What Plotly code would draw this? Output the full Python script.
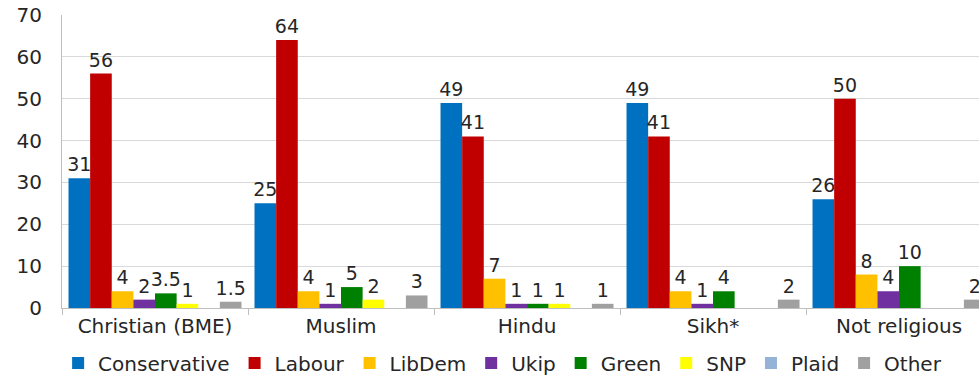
import plotly.graph_objects as go

categories = ["Christian (BME)", "Muslim", "Hindu", "Sikh*", "Not religious"]
parties = ["Conservative", "Labour", "LibDem", "Ukip", "Green", "SNP", "Plaid", "Other"]
conservative = [31, 25, 49, 49, 26]
labour = [56, 64, 41, 41, 50]
libdem = [4, 4, 7, 4, 8]
ukip = [2, 1, 1, 1, 4]
green = [3.5, 5, 1, 4, 10]
snp = [1, 2, 1, None, None]
plaid = [None, None, None, None, None]
other = [1.5, 3, 1, 2, 2]

series = [conservative, labour, libdem, ukip, green, snp, plaid, other]
colors = ["#0070C0", "#C00000", "#FFC000", "#7030A0", "#008000", "#FFFF00", "#95B3D7", "#A0A0A0"]

FONT = "DejaVu Sans"

fig = go.Figure()
for name, vals, col in zip(parties, series, colors):
    fig.add_trace(go.Bar(
        name=name, x=categories, y=vals, marker_color=col, marker_line_width=0,
        text=[("" if v is None else f"{v:g}") for v in vals],
        textposition="outside", constraintext="none", cliponaxis=False,
        textfont=dict(size=19, color="#262626", family=FONT),
    ))

fig.update_layout(
    barmode="group", bargap=0.07, bargroupgap=0,
    width=979, height=379,
    margin=dict(l=62, r=0, t=15, b=71, autoexpand=False),
    paper_bgcolor="white", plot_bgcolor="white",
    font=dict(family=FONT, size=18, color="#262626"),
    legend=dict(orientation="h", x=0.4805, xanchor="center", y=-0.188, yanchor="middle",
                font=dict(size=20, family=FONT), itemwidth=30, traceorder="normal"),
    showlegend=True,
)
fig.update_xaxes(range=[-0.5, 4.43], showline=True, linecolor="#BFBFBF", linewidth=1,
                 ticks="outside", tickson="boundaries", ticklen=6, tickcolor="#BFBFBF",
                 tickfont=dict(size=20, family=FONT), automargin=False)
fig.update_yaxes(range=[0, 70], dtick=10, showgrid=True, gridcolor="#D9D9D9",
                 showline=True, linecolor="#BFBFBF", zeroline=False,
                 tickfont=dict(size=20, family=FONT), ticks="", ticklabelstandoff=15,
                 ticklabeloverflow="allow", automargin=False)

fig.write_html("out.html", config={"displayModeBar": False},
               post_script="document.body.style.margin='0';")
